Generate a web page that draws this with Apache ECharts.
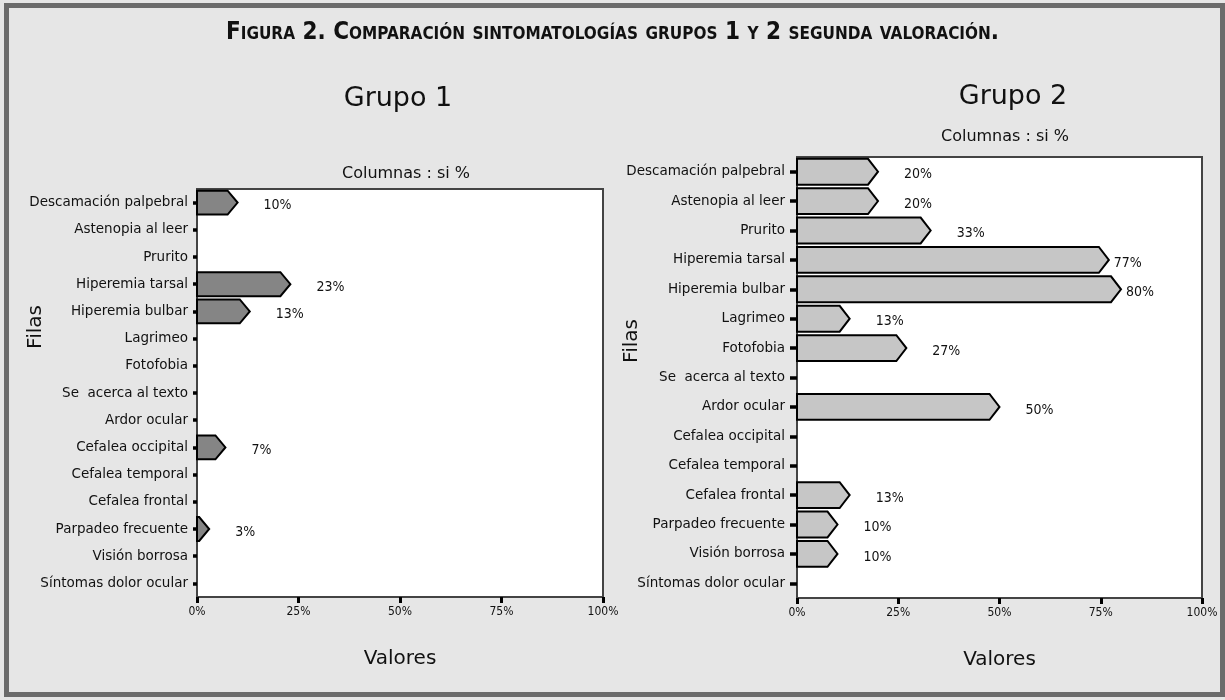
<!DOCTYPE html>
<html>
<head>
<meta charset="utf-8">
<script src="https://cdn.jsdelivr.net/npm/echarts@6/dist/echarts.min.js"></script>
<style>
html,body{margin:0;padding:0;background:#e6e6e6;}
#frame{position:absolute;left:4px;top:3px;width:1211px;height:684px;border:5px solid #6b6b6b;background:#e6e6e6;}
#chart{position:absolute;left:0;top:0;width:1225px;height:700px;}
</style>
</head>
<body>
<div id="frame"></div>
<div id="chart"></div>
<script>
const categories = ["Descamación palpebral","Astenopia al leer","Prurito","Hiperemia tarsal","Hiperemia bulbar","Lagrimeo","Fotofobia","Se  acerca al texto","Ardor ocular","Cefalea occipital","Cefalea temporal","Cefalea frontal","Parpadeo frecuente","Visión borrosa","Síntomas dolor ocular"];
const grupo1 = [10,0,0,23,13,0,0,0,0,7,0,0,3,0,0];
const grupo2 = [20,20,33,77,80,13,27,0,50,0,0,13,10,10,0];
const xTicks = [0,25,50,75,100];

const chart = echarts.init(document.getElementById('chart'), null, {renderer:'canvas'});
const labelFont = 'DejaVu Sans';
const condFont = 'DejaVu Sans Condensed';

function arrowRender(fill){
  return function(params, api){
    const v = api.value(0), c = api.value(1);
    if(!v) return null;
    const p0 = api.coord([0,c]), p1 = api.coord([v,c]);
    const h = api.size([0,1])[1]*0.88;
    const len = p1[0]-p0[0];
    const tip = Math.min(10, len);
    const y = p0[1];
    const off = v > 60 ? 5 : 26;
    return {
      type:'group',
      children:[
        {type:'polygon', shape:{points:[[p0[0],y-h/2],[p1[0]-tip,y-h/2],[p1[0],y],[p1[0]-tip,y+h/2],[p0[0],y+h/2]]},
         style:{fill:fill, stroke:'#000', lineWidth:2, lineJoin:'miter'}},
        {type:'text', x:p1[0]+off, y:y+3, style:{text:v+'%', fill:'#111', font:'14px "'+condFont+'"', textVerticalAlign:'middle'}}
      ]
    };
  };
}

function yAxis(idx, tickLen){
  return {
    type:'category', gridIndex:idx, data:categories, inverse:true,
    axisLine:{show:true, lineStyle:{color:'#444', width:2}},
    axisTick:{show:true, alignWithLabel:true, length:tickLen, lineStyle:{color:'#000', width:3.5}},
    axisLabel:{color:'#111', fontFamily:labelFont, fontSize:13.5, margin:tickLen+5}
  };
}
function xAxis(idx){
  return {
    type:'value', gridIndex:idx, min:0, max:100, interval:25,
    splitLine:{show:false},
    axisLine:{show:true, lineStyle:{color:'#444', width:2}},
    axisTick:{show:true, length:6, lineStyle:{color:'#000', width:3}},
    axisLabel:{color:'#111', fontFamily:condFont, fontSize:12, margin:9, formatter:'{value}%'},
    name:'Valores', nameLocation:'middle', nameGap:52,
    nameTextStyle:{color:'#111', fontFamily:labelFont, fontSize:20}
  };
}

const option = {
  backgroundColor:'transparent',
  animation:false,
  title:[
    {text:'Grupo 1', left:393, top:80, textAlign:'center', textStyle:{fontFamily:labelFont, fontSize:27, fontWeight:'normal', color:'#111'}},
    {text:'Columnas : si %', left:401, top:161, textAlign:'center', textStyle:{fontFamily:labelFont, fontSize:16, fontWeight:'normal', color:'#111'}},
    {text:'Grupo 2', left:1008, top:78, textAlign:'center', textStyle:{fontFamily:labelFont, fontSize:27, fontWeight:'normal', color:'#111'}},
    {text:'Columnas : si %', left:1000, top:124, textAlign:'center', textStyle:{fontFamily:labelFont, fontSize:16, fontWeight:'normal', color:'#111'}}
  ],
  graphic:[
    {type:'text', left:'center', top:21, style:{text:'Figura 2. Comparación sintomatologías grupos 1 y 2 segunda valoración.',
      font:'small-caps bold 24px "DejaVu Sans Condensed"', fill:'#111'}},
    {type:'text', x:36, y:327, rotation:Math.PI/2, style:{text:'Filas', font:'20px "DejaVu Sans"', fill:'#111', align:'center', verticalAlign:'middle'}},
    {type:'text', x:632, y:341, rotation:Math.PI/2, style:{text:'Filas', font:'20px "DejaVu Sans"', fill:'#111', align:'center', verticalAlign:'middle'}}
  ],
  grid:[
    {left:197, top:189, width:406, height:408, show:true, backgroundColor:'#fff', borderColor:'#444', borderWidth:2},
    {left:797, top:157, width:405, height:441, show:true, backgroundColor:'#fff', borderColor:'#444', borderWidth:2}
  ],
  xAxis:[xAxis(0), xAxis(1)],
  yAxis:[yAxis(0,4), yAxis(1,7)],
  series:[
    {type:'custom', xAxisIndex:0, yAxisIndex:0, renderItem:arrowRender('#858585'), clip:false,
      encode:{x:0,y:1}, data:grupo1.map((v,i)=>[v,i])},
    {type:'custom', xAxisIndex:1, yAxisIndex:1, renderItem:arrowRender('#c6c6c6'), clip:false,
      encode:{x:0,y:1}, data:grupo2.map((v,i)=>[v,i])}
  ]
};
chart.setOption(option);
</script>
</body>
</html>
